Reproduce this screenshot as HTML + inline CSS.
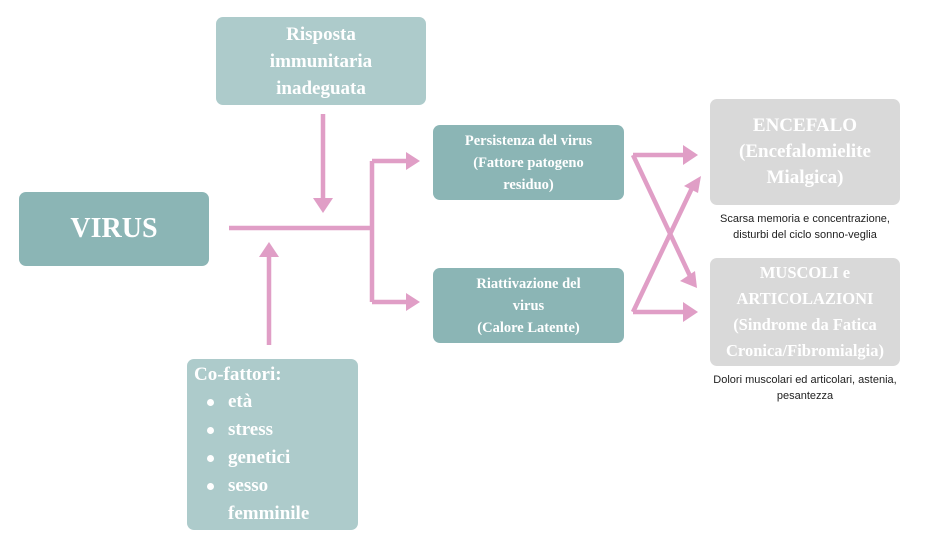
<!DOCTYPE html>
<html><head><style>
body{margin:0;width:928px;height:546px;background:#fff;position:relative;overflow:hidden;font-family:"Liberation Serif",serif;}
.b{position:absolute;border-radius:7px;color:#fff;font-weight:bold;text-align:center;display:flex;align-items:center;justify-content:center;}
.t{background:#8bb5b5}.l{background:#adcbcb}.g{background:#d9d9d9}
.s{position:absolute;font-family:"Liberation Sans",sans-serif;font-size:11px;color:#222;text-align:center;line-height:16px}
ul{margin:0;padding-left:41px;list-style:none}
li{position:relative;line-height:28px}
li:before{content:"";position:absolute;left:-21px;top:11px;width:7px;height:7px;border-radius:50%;background:#fff}
</style></head><body>
<svg width="928" height="546" style="position:absolute;left:0;top:0">
<g stroke="#e09ec6" stroke-width="4.5" fill="none">
<path d="M229 228H372M372 161V302M372 161H408M372 302H408M323 114V200M269 345V255M633 155H685M633 155L690 276M633 312H685M633 312L692 188"/>
</g>
<g fill="#e09ec6">
<polygon points="420,161 406,152 406,170"/><polygon points="420,302 406,293 406,311"/>
<polygon points="323,213 313,198 333,198"/><polygon points="269,242 259,257 279,257"/>
<polygon points="698,155 683,145 683,165"/><polygon points="698,312 683,302 683,322"/>
<polygon points="697,288 680,281 695,271"/><polygon points="701,176 698,193 684,186"/>
</g>
</svg>
<div class="b t" style="left:19px;top:192px;width:190px;height:74px;font-size:28px">VIRUS</div>
<div class="b l" style="left:216px;top:17px;width:210px;height:88px;font-size:19px;line-height:27px">Risposta<br>immunitaria<br>inadeguata</div>
<div class="b t" style="left:433px;top:125px;width:191px;height:75px;font-size:14.5px;line-height:22px">Persistenza del virus<br>(Fattore patogeno<br>residuo)</div>
<div class="b t" style="left:433px;top:268px;width:191px;height:75px;font-size:14.5px;line-height:22px">Riattivazione del<br>virus<br>(Calore Latente)</div>
<div class="b g" style="left:710px;top:99px;width:190px;height:106px;font-size:19px;line-height:26px">ENCEFALO<br>(Encefalomielite<br>Mialgica)</div>
<div class="b g" style="left:710px;top:258px;width:190px;height:108px;font-size:16.5px;line-height:26px">MUSCOLI e<br>ARTICOLAZIONI<br>(Sindrome da Fatica<br>Cronica/Fibromialgia)</div>
<div class="s" style="left:700px;top:211px;width:210px">Scarsa memoria e concentrazione,<br>disturbi del ciclo sonno-veglia</div>
<div class="s" style="left:700px;top:372px;width:210px">Dolori muscolari ed articolari, astenia,<br>pesantezza</div>
<div class="b l" style="left:187px;top:359px;width:171px;height:171px;font-size:19px;display:block;text-align:left">
<div style="padding:3px 0 0 7px;line-height:26px">Co-fattori:</div>
<ul><li>età</li><li>stress</li><li>genetici</li><li>sesso<br>femminile</li></ul>
</div>
</body></html>
